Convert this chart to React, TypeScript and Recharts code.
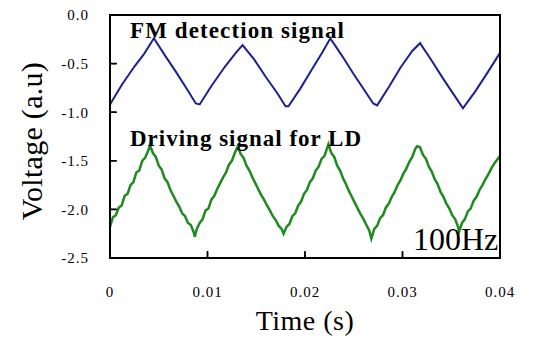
import { LineChart, Line, XAxis, YAxis, ReferenceArea, Label } from "recharts";

// FM detection signal (blue)
const fmTime = [
  0, 0.0012, 0.0025, 0.0035, 0.0045, 0.0056, 0.0068, 0.008, 0.0088, 0.0092,
  0.0104, 0.0118, 0.0129, 0.0136, 0.0148, 0.016, 0.0172, 0.018, 0.0183, 0.0195,
  0.0207, 0.0218, 0.0226, 0.0238, 0.025, 0.0262, 0.027, 0.0274, 0.0286, 0.0298,
  0.031, 0.0318, 0.033, 0.0342, 0.0354, 0.0362, 0.0375, 0.0388, 0.04,
];
const fmVolt = [
  -0.92, -0.72, -0.53, -0.4, -0.24, -0.41, -0.59, -0.78, -0.91, -0.92,
  -0.73, -0.53, -0.39, -0.31, -0.46, -0.64, -0.81, -0.94, -0.94, -0.76,
  -0.56, -0.38, -0.24, -0.42, -0.61, -0.79, -0.91, -0.93, -0.74, -0.54,
  -0.37, -0.29, -0.47, -0.66, -0.84, -0.96, -0.78, -0.58, -0.39,
];

// Driving signal for LD (green), jagged ramps
const ldTime = [
  0, 0.0003, 0.0006, 0.0009, 0.0012, 0.0015, 0.0018, 0.0021, 0.0024, 0.0027, 0.003, 0.0033, 0.0036, 0.0039, 0.0041,
  0.0044, 0.0047, 0.005, 0.0053, 0.0056, 0.0059, 0.0062, 0.0065, 0.0068, 0.0071, 0.0074, 0.0077, 0.008, 0.0083, 0.0086, 0.0087,
  0.0089, 0.0092, 0.0095, 0.0098, 0.0101, 0.0104, 0.0107, 0.011, 0.0113, 0.0116, 0.0119, 0.0122, 0.0125, 0.0128, 0.0131,
  0.0134, 0.0137, 0.014, 0.0143, 0.0146, 0.0149, 0.0152, 0.0155, 0.0158, 0.0161, 0.0164, 0.0167, 0.017, 0.0173, 0.0176, 0.0178,
  0.0181, 0.0184, 0.0187, 0.019, 0.0193, 0.0196, 0.0199, 0.0202, 0.0205, 0.0208, 0.0211, 0.0214, 0.0217, 0.022, 0.0224,
  0.0227, 0.023, 0.0233, 0.0236, 0.0239, 0.0242, 0.0245, 0.0248, 0.0251, 0.0254, 0.0257, 0.026, 0.0263, 0.0266, 0.0268,
  0.0271, 0.0274, 0.0277, 0.028, 0.0283, 0.0286, 0.0289, 0.0292, 0.0295, 0.0298, 0.0301, 0.0304, 0.0307, 0.031, 0.0313, 0.0315,
  0.0318, 0.0321, 0.0324, 0.0327, 0.033, 0.0333, 0.0336, 0.0339, 0.0342, 0.0345, 0.0348, 0.0351, 0.0354, 0.0357, 0.0358,
  0.0361, 0.0364, 0.0367, 0.037, 0.0373, 0.0376, 0.0379, 0.0382, 0.0385, 0.0388, 0.0391, 0.0394, 0.0397, 0.04,
];
const ldVolt = [
  -2.18, -2.08, -2.06, -1.98, -1.96, -1.86, -1.84, -1.75, -1.72, -1.62, -1.6, -1.5, -1.47, -1.4, -1.34,
  -1.42, -1.46, -1.55, -1.59, -1.68, -1.72, -1.8, -1.86, -1.92, -1.97, -2.04, -2.07, -2.14, -2.16, -2.24, -2.28,
  -2.2, -2.14, -2.1, -2.01, -1.99, -1.9, -1.86, -1.79, -1.73, -1.67, -1.62, -1.54, -1.5, -1.42, -1.35,
  -1.43, -1.47, -1.55, -1.6, -1.67, -1.73, -1.79, -1.85, -1.9, -1.96, -2.01, -2.07, -2.11, -2.17, -2.2, -2.25,
  -2.18, -2.15, -2.07, -2.04, -1.96, -1.92, -1.84, -1.8, -1.72, -1.68, -1.6, -1.56, -1.48, -1.45, -1.33,
  -1.42, -1.46, -1.55, -1.6, -1.68, -1.74, -1.81, -1.87, -1.93, -1.99, -2.05, -2.1, -2.16, -2.22, -2.3,
  -2.2, -2.17, -2.09, -2.06, -1.98, -1.94, -1.87, -1.82, -1.75, -1.7, -1.63, -1.58, -1.51, -1.46, -1.38, -1.35,
  -1.36, -1.44, -1.48, -1.56, -1.61, -1.69, -1.74, -1.82, -1.87, -1.94, -1.99, -2.06, -2.1, -2.18, -2.23,
  -2.14, -2.1, -2.02, -1.99, -1.91, -1.87, -1.8, -1.75, -1.69, -1.64, -1.58, -1.53, -1.49, -1.45,
];

const xTicks = [0, 0.01, 0.02, 0.03, 0.04];
const yTicks = [0, -0.5, -1, -1.5, -2, -2.5];

const fmData = fmTime.map((t, i) => ({ t, v: fmVolt[i] }));
const ldData = ldTime.map((t, i) => ({ t, v: ldVolt[i] }));

const serif = "Liberation Serif";
const tickStyle = { fontFamily: serif, fontSize: 15, fill: "#000", letterSpacing: 1 };
const frame = { stroke: "#000", strokeWidth: 2 };

// plot box (follows the chart margins / axis sizes below)
const box = { left: 110, right: 500, top: 15, bottom: 258 };
const px = (t: number) => box.left + ((box.right - box.left) * t) / 0.04;
const py = (v: number) => box.top + ((box.bottom - box.top) * -v) / 2.5;

const App = () => {
  return (
    <div style={{ position: "relative", left: -8, top: -8, width: 536, height: 339, background: "#fff" }}>
      <LineChart width={536} height={339} data={ldData} margin={{ top: 15, right: 36, bottom: 0, left: 0 }}>
        <XAxis
          type="number"
          dataKey="t"
          domain={[0, 0.04]}
          ticks={xTicks}
          interval={0}
          height={81}
          stroke="#000"
          axisLine={frame}
          tickLine={{ stroke: "#000", strokeWidth: 1.5 }}
          tickSize={-6}
          tickMargin={34}
          tick={tickStyle}
          tickFormatter={(v: number) => String(v)}
        >
          <Label
            content={() => (
              <text x={305} y={330} textAnchor="middle" fontFamily={serif} fontSize={28} letterSpacing={0.5} fill="#000">
                Time (s)
              </text>
            )}
          />
        </XAxis>
        <YAxis
          type="number"
          domain={[-2.5, 0]}
          ticks={yTicks}
          interval={0}
          width={110}
          stroke="#000"
          axisLine={frame}
          tickLine={{ stroke: "#000", strokeWidth: 1.5 }}
          tickSize={-6}
          tickMargin={27}
          tick={tickStyle}
          tickFormatter={(v: number) => v.toFixed(1)}
        >
          <Label
            content={() => (
              <text
                x={42}
                y={141}
                transform="rotate(-90 42 141)"
                textAnchor="middle"
                fontFamily={serif}
                fontSize={30}
                letterSpacing={0.3}
                fill="#000"
              >
                Voltage (a.u)
              </text>
            )}
          />
        </YAxis>
        <ReferenceArea x1={0} x2={0.04} y1={-2.5} y2={0} fill="none" stroke="#000" strokeWidth={2} />
        <Line
          data={fmData}
          dataKey="v"
          type="linear"
          stroke="#1f1f8f"
          strokeWidth={2}
          dot={false}
          isAnimationActive={false}
        />
        <Line
          dataKey="v"
          type="linear"
          stroke="#1f8a1f"
          strokeWidth={2.5}
          dot={false}
          isAnimationActive={false}
        />
      </LineChart>
      <svg
        width={536}
        height={339}
        style={{ position: "absolute", left: 0, top: 0, pointerEvents: "none" }}
      >
        {/* frame as filled bars */}
        <rect x={box.left - 1} y={box.top - 1} width={box.right - box.left + 2} height={2} fill="#000" />
        <rect x={box.left - 1} y={box.bottom - 1} width={box.right - box.left + 2} height={2} fill="#000" />
        <rect x={box.left - 1} y={box.top - 1} width={2} height={box.bottom - box.top + 2} fill="#000" />
        <rect x={box.right - 1} y={box.top - 1} width={2} height={box.bottom - box.top + 2} fill="#000" />
        {xTicks.map((t) => (
          <rect key={`xt${t}`} x={px(t) - 0.75} y={box.bottom - 7} width={1.5} height={7} fill="#000" />
        ))}
        {yTicks.map((v) => (
          <rect key={`yt${v}`} x={box.left} y={py(v) - 0.75} width={7} height={1.5} fill="#000" />
        ))}
        <text x={130} y={38} fontFamily={serif} fontWeight="bold" fontSize={23} letterSpacing={1.1} fill="#000">
          FM detection signal
        </text>
        <text x={130} y={146} fontFamily={serif} fontWeight="bold" fontSize={23} letterSpacing={1} fill="#000">
          Driving signal for LD
        </text>
        <text x={413} y={250} fontFamily={serif} fontSize={32} fill="#000">
          100Hz
        </text>
      </svg>
    </div>
  );
};

export default App;
